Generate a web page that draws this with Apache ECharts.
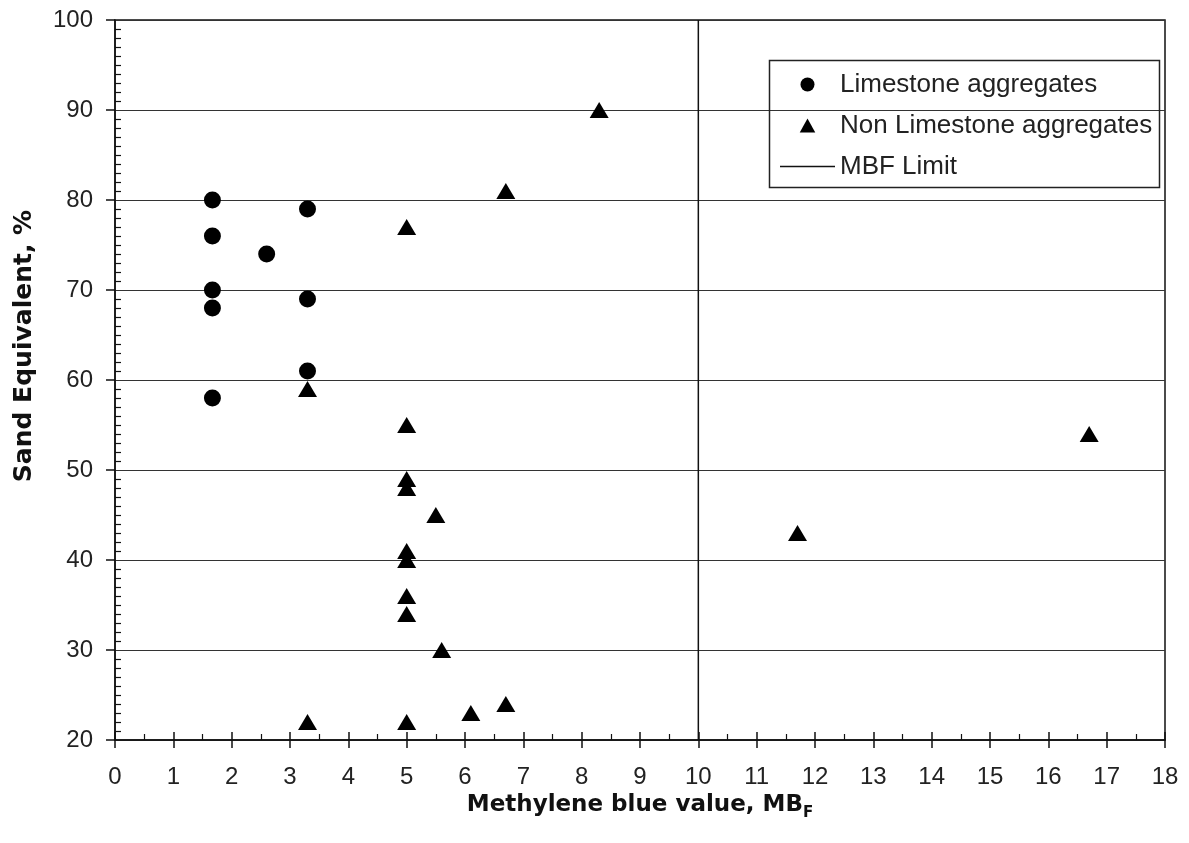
<!DOCTYPE html>
<html>
<head>
<meta charset="utf-8">
<script src="https://cdn.jsdelivr.net/npm/echarts@6/dist/echarts.min.js"></script>
<style>
html,body{margin:0;padding:0;background:#fff;}
#main{width:1189px;height:843px;}
</style>
</head>
<body>
<div id="main"></div>
<script>
// data
var limestone = [
    [1.67, 80], [1.67, 76], [2.6, 74], [3.3, 79], [1.67, 70],
    [1.67, 68], [3.3, 69], [3.3, 61], [1.67, 58]
];
var nonLimestone = [
    [8.3, 90], [6.7, 81], [5, 77], [3.3, 59], [5, 55], [5, 49], [5, 48],
    [5.5, 45], [5, 41], [5, 40], [5, 36], [5, 34], [5.6, 30], [3.3, 22],
    [5, 22], [6.1, 23], [6.7, 24], [11.7, 43], [16.7, 54]
];
var mbfLimit = [[10, 20], [10, 100]];
var seriesNames = ['Limestone aggregates', 'Non Limestone aggregates', 'MBF Limit'];

var FONT = '"Liberation Sans", Arial, sans-serif';
var BOLD = '"DejaVu Sans", sans-serif';
var triPath = 'path://M5,0 L10,9 L0,9 Z';
var linePath = 'path://M0,0 L55,0 L55,1.5 L0,1.5 Z';

var myChart = echarts.init(document.getElementById('main'));
var option = {
    backgroundColor: '#fff',
    animation: false,
    grid: {
        left: 115, right: 24, top: 20, bottom: 103,
        containLabel: false, outerBoundsMode: 'none',
        show: true, borderColor: '#111', borderWidth: 1.5
    },
    legend: {
        orient: 'vertical',
        left: 775, top: 66,
        itemWidth: 55, itemHeight: 14,
        itemGap: 14,
        symbolKeepAspect: true,
        textStyle: {fontFamily: FONT, fontSize: 26, color: '#222', lineHeight: 27},
        data: [
            {name: seriesNames[0], icon: 'circle'},
            {name: seriesNames[1], icon: triPath},
            {name: seriesNames[2], icon: linePath}
        ]
    },
    graphic: [{
        type: 'rect',
        left: 767, top: 58,
        shape: {width: 390, height: 127},
        style: {fill: 'none', stroke: '#222', lineWidth: 1.5},
        z: 10
    }],
    xAxis: [
        {
            type: 'value', min: 0, max: 18, interval: 1,
            name: '{a|Methylene blue value, MB}{s|F}',
            nameLocation: 'middle', nameGap: 50,
            nameTextStyle: {
                rich: {
                    a: {fontFamily: BOLD, fontWeight: 'bold', fontSize: 23, color: '#111', lineHeight: 30},
                    s: {fontFamily: BOLD, fontWeight: 'bold', fontSize: 15, color: '#111', lineHeight: 15, verticalAlign: 'bottom'}
                }
            },
            axisLine: {show: true, lineStyle: {color: '#111', width: 1.5}},
            axisTick: {show: true, inside: true, length: 8, lineStyle: {color: '#111', width: 1.5}},
            minorTick: {show: true, splitNumber: 2, length: 6, lineStyle: {color: '#111', width: 1.2}},
            axisLabel: {fontFamily: FONT, fontSize: 24, color: '#222', margin: 25},
            splitLine: {show: false}
        },
        {
            type: 'value', min: 0, max: 18, interval: 1, position: 'bottom',
            axisLine: {show: false},
            axisTick: {show: true, inside: false, length: 8, lineStyle: {color: '#111', width: 1.5}},
            axisLabel: {show: false},
            splitLine: {show: false}
        }
    ],
    yAxis: [
        {
            type: 'value', min: 20, max: 100, interval: 10,
            name: 'Sand Equivalent, %',
            nameLocation: 'middle', nameGap: 78, nameRotate: 90,
            nameTextStyle: {fontFamily: BOLD, fontWeight: 'bold', fontSize: 25, color: '#111', padding: [0, 0, 0, 68]},
            axisLine: {show: true, lineStyle: {color: '#111', width: 1.5}},
            axisTick: {show: true, inside: false, length: 9, lineStyle: {color: '#111', width: 1.5}},
            axisLabel: {fontFamily: FONT, fontSize: 24, color: '#222', margin: 22},
            splitLine: {show: true, lineStyle: {color: '#333', width: 1.2}}
        },
        {
            type: 'value', min: 20, max: 100, interval: 10, position: 'left',
            axisLine: {show: false},
            axisTick: {show: false, inside: true},
            minorTick: {show: true, splitNumber: 10, length: 6, lineStyle: {color: '#111', width: 1.2}},
            axisLabel: {show: false},
            splitLine: {show: false}
        }
    ],
    series: [
        {
            name: seriesNames[0], type: 'scatter',
            symbol: 'circle', symbolSize: 17,
            itemStyle: {color: '#000', opacity: 1},
            data: limestone, z: 5
        },
        {
            name: seriesNames[1], type: 'scatter',
            symbol: 'triangle', symbolSize: [19, 16],
            itemStyle: {color: '#000', opacity: 1},
            data: nonLimestone, z: 5
        },
        {
            name: seriesNames[2], type: 'line',
            symbol: 'none', showSymbol: false,
            lineStyle: {color: '#111', width: 1.5},
            itemStyle: {color: '#111'},
            data: mbfLimit, z: 3
        }
    ]
};
myChart.setOption(option);
</script>
</body>
</html>
